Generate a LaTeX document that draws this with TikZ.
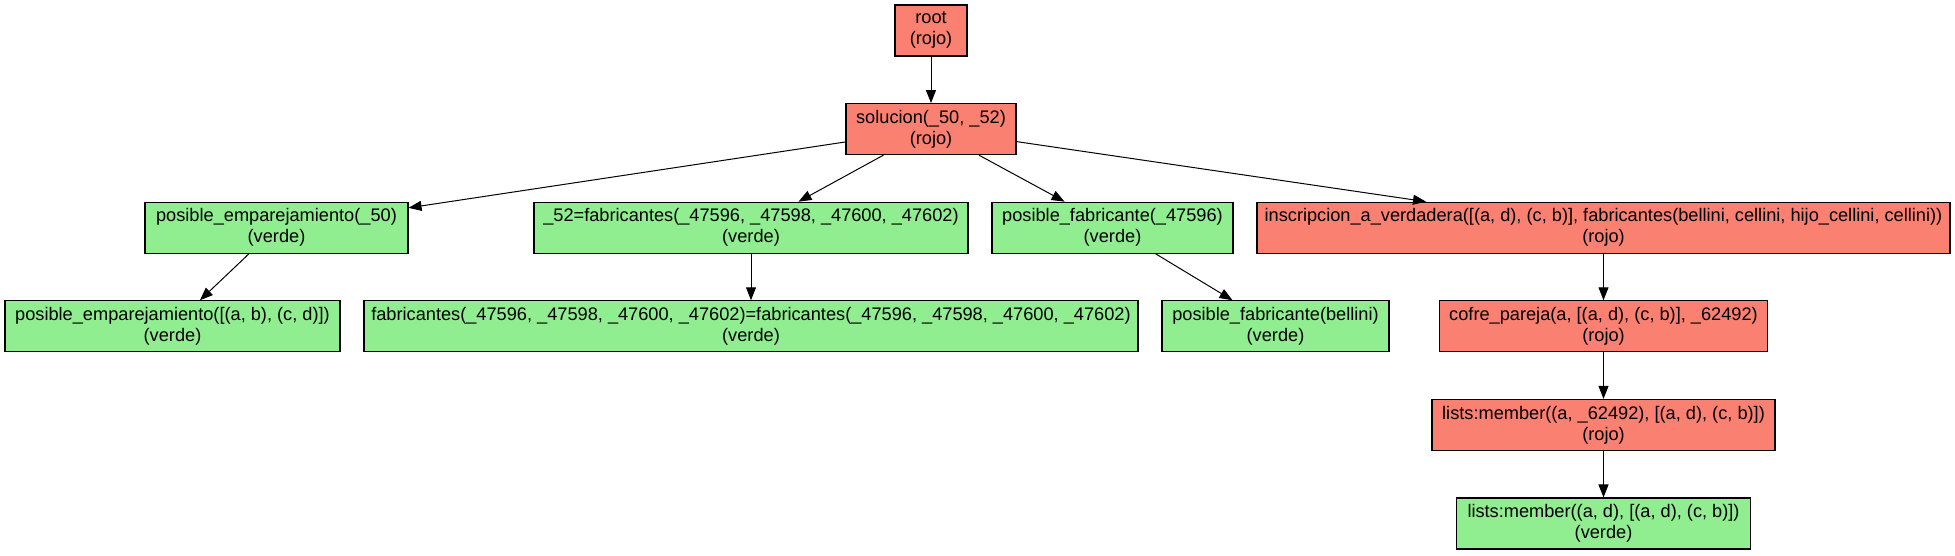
\documentclass[tikz,border=0pt]{standalone}
\usepackage{fontspec}
\setmainfont{Liberation Sans}
\usetikzlibrary{arrows.meta}
\definecolor{rojo}{HTML}{FA8072}
\definecolor{verde}{HTML}{90EE90}
\tikzset{
  box/.style={draw=black, line width=1.1pt, rectangle, inner sep=0pt,
    minimum height=51pt, align=center,
    font=\fontsize{18.2}{21}\selectfont},
  red/.style={box, fill=rojo},
  green/.style={box, fill=verde},
  edge/.style={line width=1pt, -{Triangle[length=13pt,width=10pt]}},
}
\begin{document}
\begin{tikzpicture}[x=1pt,y=-1pt]
\useasboundingbox (0,0) rectangle (1955,555);
\node[red, minimum width=72pt] (root) at (931,30.5) {root\\(rojo)};
\node[red, minimum width=170pt] (sol) at (931,129.1) {solucion(\_50, \_52)\\(rojo)};
\node[green, minimum width=263pt] (pe50) at (276.5,227.7) {posible\_emparejamiento(\_50)\\(verde)};
\node[green, minimum width=434pt] (fab52) at (751,227.7) {\_52=fabricantes(\_47596, \_47598, \_47600, \_47602)\\(verde)};
\node[green, minimum width=241pt] (pf) at (1112.5,227.7) {posible\_fabricante(\_47596)\\(verde)};
\node[red, minimum width=693pt] (ins) at (1603.5,227.7) {inscripcion\_a\_verdadera([(a, d), (c, b)], fabricantes(bellini, cellini, hijo\_cellini, cellini))\\(rojo)};
\node[green, minimum width=335pt] (peab) at (172.5,326.3) {posible\_emparejamiento([(a, b), (c, d)])\\(verde)};
\node[green, minimum width=774pt] (fabeq) at (751,326.3) {fabricantes(\_47596, \_47598, \_47600, \_47602)=fabricantes(\_47596, \_47598, \_47600, \_47602)\\(verde)};
\node[green, minimum width=227pt] (pfb) at (1275.5,326.3) {posible\_fabricante(bellini)\\(verde)};
\node[red, minimum width=328pt] (cofre) at (1603.5,326.3) {cofre\_pareja(a, [(a, d), (c, b)], \_62492)\\(rojo)};
\node[red, minimum width=343pt] (lm1) at (1603.5,424.9) {lists:member((a, \_62492), [(a, d), (c, b)])\\(rojo)};
\node[green, minimum width=294pt] (lm2) at (1603.5,523.5) {lists:member((a, d), [(a, d), (c, b)])\\(verde)};
\draw[edge] (root) -- (sol);
\draw[edge] (sol) -- (pe50);
\draw[edge] (sol) -- (fab52);
\draw[edge] (sol) -- (pf);
\draw[edge] (sol) -- (ins);
\draw[edge] (pe50) -- (peab);
\draw[edge] (fab52) -- (fabeq);
\draw[edge] (pf) -- (pfb);
\draw[edge] (ins) -- (cofre);
\draw[edge] (cofre) -- (lm1);
\draw[edge] (lm1) -- (lm2);
\end{tikzpicture}
\end{document}
